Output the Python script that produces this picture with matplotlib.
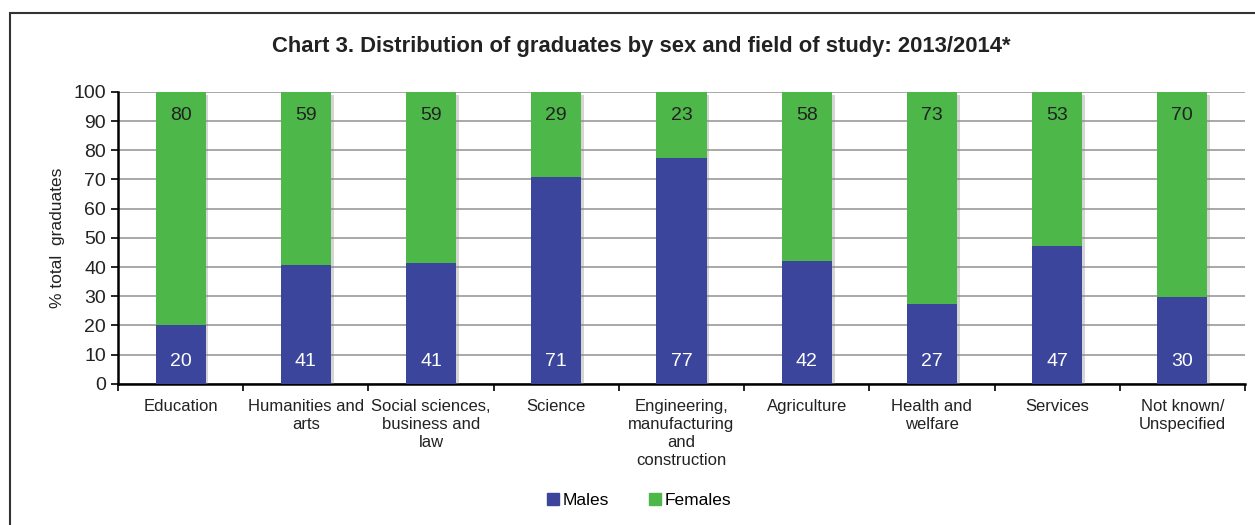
import numpy as np
import matplotlib.pyplot as plt
import matplotlib.patheffects as pe
from matplotlib.patches import Rectangle, Patch

plt.rcParams['font.family'] = ['Liberation Sans', 'DejaVu Sans']

fields = ['Education', 'Humanities and\narts', 'Social sciences,\nbusiness and\nlaw',
          'Science', 'Engineering,\nmanufacturing\nand\nconstruction', 'Agriculture',
          'Health and\nwelfare', 'Services', 'Not known/\nUnspecified']
males = [20.2, 40.7, 41.4, 70.9, 77.4, 42.1, 27.4, 47.3, 29.8]
females = [100 - m for m in males]

blue = '#3A459B'
green = '#4DB749'

fig = plt.figure(figsize=(12.55, 5.25), dpi=100)
ax = fig.add_axes([0.094, 0.269, 0.898, 0.556])

x = np.arange(len(fields))
shadow = [pe.SimplePatchShadow(offset=(2, -2), shadow_rgbFace='#888888', alpha=0.35), pe.Normal()]
# males drawn above females so the green shadow does not cover the blue
ax.bar(x, males, width=0.4, color=blue, zorder=3.5, path_effects=shadow)
ax.bar(x, females, width=0.4, bottom=males, color=green, zorder=3, path_effects=shadow)

for i in range(len(fields)):
    ax.text(x[i], 7.5, '%d' % round(males[i]), ha='center', va='center', color='white', fontsize=14, zorder=4)
    ax.text(x[i], 92, '%d' % round(females[i]), ha='center', va='center', color='#222222', fontsize=14, zorder=4)

ax.set_xlim(-0.5, len(fields) - 0.5)
ax.set_ylim(0, 100)
ax.set_yticks(np.arange(0, 101, 10))
ax.tick_params(axis='y', labelsize=14, length=5, width=1.2, colors='black', labelcolor='#222222')
ax.set_xticks(x)
ax.set_xticklabels(fields, fontsize=12, color='#222222', linespacing=1.25)
ax.tick_params(axis='x', which='major', length=0, pad=11)
ax.set_xticks(np.arange(-0.5, len(fields), 1), minor=True)
ax.tick_params(axis='x', which='minor', length=5, width=1.2)
ax.grid(axis='y', color='#999999', linewidth=1.2, zorder=0)
ax.set_axisbelow(True)
for s in ['top', 'right']:
    ax.spines[s].set_visible(False)
ax.spines['left'].set_linewidth(1.8)
ax.spines['bottom'].set_linewidth(1.8)
ax.set_ylabel('% total  graduates', fontsize=12.5, color='#222222', labelpad=6)

fig.text(0.511, 0.912, 'Chart 3. Distribution of graduates by sex and field of study: 2013/2014*',
         ha='center', va='center', fontsize=15.8, fontweight='bold', color='#222222')

handles = [Patch(color=blue, label='Males'), Patch(color=green, label='Females')]
fig.legend(handles=handles, loc='center', bbox_to_anchor=(0.509, 0.046), ncol=2, frameon=False,
           fontsize=12.5, handlelength=0.7, handleheight=0.7, handletextpad=0.2, columnspacing=2.3)

fig.patches.append(Rectangle((0.008, -0.1), 1.1, 1.075, transform=fig.transFigure,
                             fill=False, edgecolor='#333333', linewidth=1.5))

fig.savefig('out.png', dpi=100)
